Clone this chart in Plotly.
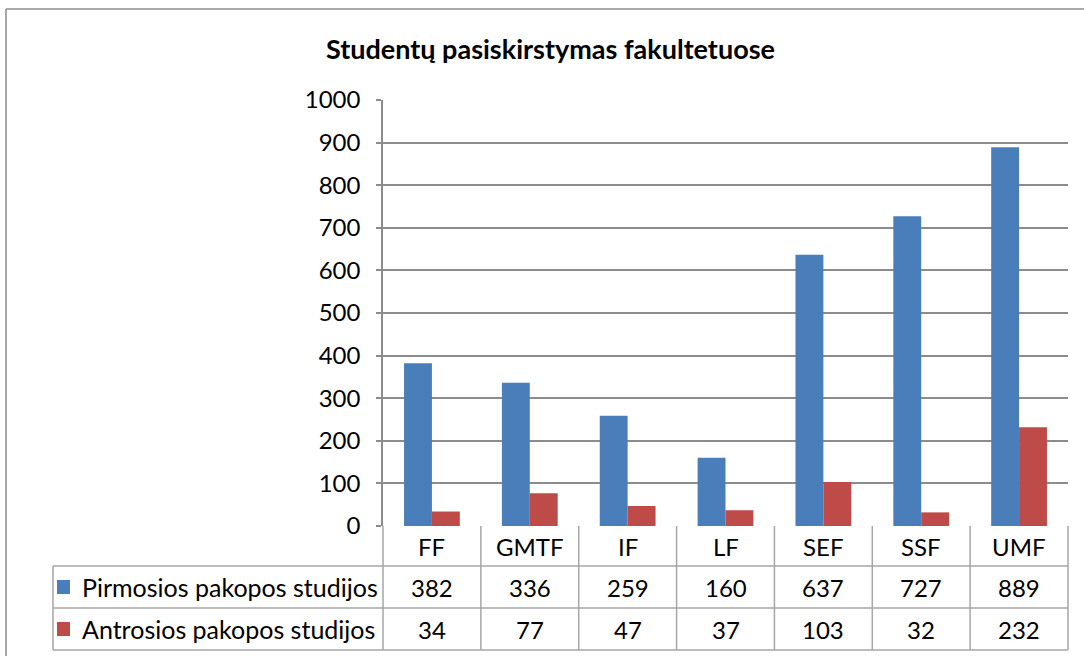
import plotly.graph_objects as go

categories = ["FF", "GMTF", "IF", "LF", "SEF", "SSF", "UMF"]
pirmosios = [382, 336, 259, 160, 637, 727, 889]
antrosios = [34, 77, 47, 37, 103, 32, 232]
series_names = ["Pirmosios pakopos studijos", "Antrosios pakopos studijos"]
colors = ["#4A7EBB", "#BE4B48"]
title = "Studentų pasiskirstymas fakultetuose"

W, H = 1084, 656
L, R, T, B = 383, 1068, 100, 526
FONT = "Lato"
FS = 24
GRID = "#8C8C8C"
TBL = "#A6A6A6"


def px(x):
    return (x - L) / (R - L)


def py(y):
    return (B - y) / (B - T)


fig = go.Figure()
for name, vals, c in zip(series_names, [pirmosios, antrosios], colors):
    fig.add_trace(go.Bar(x=categories, y=vals, name=name, marker=dict(color=c, line=dict(width=0)),
                         hoverinfo="skip"))

shapes = []
annotations = []

def line(x0, y0, x1, y1, color=TBL, w=1.5):
    shapes.append(dict(type="line", xref="paper", yref="paper", x0=px(x0), y0=py(y0), x1=px(x1), y1=py(y1),
                       line=dict(color=color, width=w), layer="above"))

# outer chart border
line(6, 9, W + 5, 9, color="#8C8C8C", w=1.5)
line(6, 9, 6, H + 5, color="#8C8C8C", w=1.5)

# data table grid
row_y = [566, 608, 650]
for y in row_y:
    line(53, y, R, y)
line(53, 566, 53, 650)
line(L, 526, L, 650)
cw = (R - L) / len(categories)
for k in range(1, len(categories) + 1):
    line(L + k * cw, 526, L + k * cw, 650)

# category labels and values
for i, cat in enumerate(categories):
    annotations.append(dict(x=cat, xref="x", y=py(546), yref="paper", text=cat, showarrow=False,
                            font=dict(family=FONT, size=FS, color="#000"), xanchor="center", yanchor="middle"))
for r, (vals, yc) in enumerate(zip([pirmosios, antrosios], [587, 629])):
    for cat, v in zip(categories, vals):
        annotations.append(dict(x=cat, xref="x", y=py(yc), yref="paper", text=str(v), showarrow=False,
                                font=dict(family=FONT, size=FS, color="#000"), xanchor="center", yanchor="middle"))
    # legend key
    shapes.append(dict(type="rect", xref="paper", yref="paper", x0=px(57), x1=px(70), y0=py(yc - 7), y1=py(yc + 7),
                       fillcolor=colors[r], line=dict(width=0)))
    annotations.append(dict(x=px(80), xref="paper", y=py(yc), yref="paper", text=series_names[r], showarrow=False,
                            font=dict(family=FONT, size=25, color="#000"), xanchor="left", yanchor="middle"))

# title
annotations.append(dict(x=px(550), xref="paper", y=py(48), yref="paper", text="<b>" + title + "</b>", showarrow=False,
                        font=dict(family=FONT, size=27, color="#000"), xanchor="center", yanchor="middle"))

fig.update_layout(
    width=W, height=H,
    margin=dict(l=L, r=W - R, t=T, b=H - B, autoexpand=False),
    paper_bgcolor="white", plot_bgcolor="white",
    barmode="group", bargap=0.43, bargroupgap=0,
    showlegend=False, hovermode=False,
    shapes=shapes, annotations=annotations,
    font=dict(family=FONT, size=FS, color="#000"),
)
fig.update_xaxes(showticklabels=False, showgrid=False, showline=False, ticks="", zeroline=False,
                 range=[-0.5, len(categories) - 0.5])
fig.update_yaxes(range=[0, 1000], dtick=100, showgrid=True, gridcolor=GRID, gridwidth=1.5,
                 showline=True, linecolor=GRID, linewidth=1.5, ticks="outside", ticklen=5, tickcolor=GRID,
                 tickwidth=1.5, ticklabelstandoff=11, zeroline=False,
                 tickfont=dict(family=FONT, size=FS, color="#000"))

fig.write_html("out.html", config={"displayModeBar": False},
               post_script="document.body.style.margin='0';document.body.style.overflow='hidden';")
